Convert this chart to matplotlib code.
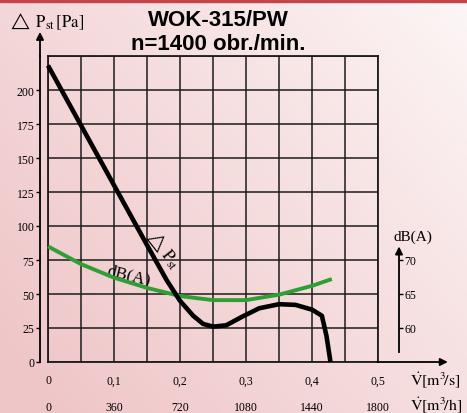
import numpy as np
import matplotlib
matplotlib.use("Agg")
import matplotlib.pyplot as plt
from matplotlib.patches import Rectangle
from matplotlib.ticker import MultipleLocator

plt.rcParams["font.family"] = ["Liberation Serif", "DejaVu Serif"]
plt.rcParams["mathtext.fontset"] = "stix"

# %% data
# air flow [m3/s] vs static pressure [Pa]
flow_p = [0, 0.05, 0.1, 0.15, 0.18, 0.2, 0.22, 0.235, 0.25, 0.27, 0.295,
          0.32, 0.35, 0.375, 0.4, 0.415, 0.422, 0.428]
pressure = [218, 174, 130, 86, 60, 45, 34, 28, 26, 27, 33.5,
            39.5, 42.5, 42, 38.5, 34, 19, 0]

# air flow [m3/s] vs noise [dB(A)]
flow_db = [0, 0.05, 0.1, 0.15, 0.2, 0.25, 0.3, 0.35, 0.4, 0.43]
noise = [72.0, 69.4, 67.4, 65.9, 64.7, 64.1, 64.1, 64.9, 66.2, 67.2]

x_ticks = [0, 0.1, 0.2, 0.3, 0.4, 0.5]
x_labels = ["0", "0,1", "0,2", "0,3", "0,4", "0,5"]
h_ticks = [0, 360, 720, 1080, 1440, 1800]
p_ticks = [0, 25, 50, 75, 100, 125, 150, 175, 200]
db_ticks = [60, 65, 70]

W, H = 467, 414
fig = plt.figure(figsize=(W / 100, H / 100), dpi=100)

# %% pink paper background
xf = np.linspace(0, 1, W)[None, :]
yf = np.linspace(0, 1, H)[:, None]
f = np.clip(0.62 * (1 - xf) + 0.45 * yf, 0, 1) ** 0.9
pink = np.array([239, 198, 200]) / 255
white = np.array([253, 247, 247]) / 255
img = white + (pink - white) * f[..., None]
bg = fig.add_axes([0, 0, 1, 1])
bg.imshow(img, aspect="auto", extent=[0, 1, 0, 1], origin="upper")
bg.axis("off")
fig.patches.append(Rectangle((0, 1 - 3 / H), 1, 3 / H, transform=fig.transFigure,
                             color="#c4434d", zorder=5))

# %% main grid
ax = fig.add_axes([48 / W, 1 - 363 / H, 330 / W, 306 / H])
ax.patch.set_visible(False)
ax.set_xlim(0, 0.5)
ax.set_ylim(0, 225)
ax.set_xticks(x_ticks, x_labels)
ax.xaxis.set_minor_locator(MultipleLocator(0.05))
ax.set_yticks(p_ticks + [225])
ax.grid(which="both", color="#1c1c1c", lw=1.1)
ax.tick_params(axis="x", which="both", length=0, pad=9, labelsize=8.5)
ax.tick_params(axis="y", length=0, labelleft=False)
for s in ax.spines.values():
    s.set_linewidth(1.3)
    s.set_color("#1c1c1c")

# left pressure axis
lax = ax.secondary_yaxis(-8 / 330)
lax.set_yticks(p_ticks)
lax.tick_params(length=3, width=1, pad=1, labelsize=8.5)
lax.spines["left"].set_linewidth(1.3)
ax.annotate("", xy=(-8 / 330, 1.088), xytext=(-8 / 330, 0.99),
            xycoords="axes fraction",
            arrowprops=dict(arrowstyle="-|>", lw=1.3, color="k", mutation_scale=11))

# second row of flow labels in m3/h
hax = ax.secondary_xaxis(-27 / 306, functions=(lambda v: v * 3600, lambda v: v / 3600))
hax.set_xticks(h_ticks)
hax.tick_params(length=0, pad=9, labelsize=8.5)
hax.spines["bottom"].set_visible(False)

# bottom arrow
ax.annotate("", xy=(1.22, 0), xytext=(0.99, 0), xycoords="axes fraction",
            arrowprops=dict(arrowstyle="-|>", lw=1.3, color="k", mutation_scale=11))

# %% noise axis on the right
ax2 = ax.twinx()
ax2.set_ylim(55, 55 + 225 / 5)
ax2.spines["right"].set_position(("axes", 351 / 330))
ax2.spines["right"].set_bounds(56.5, 71.5)
ax2.spines["right"].set_linewidth(1.3)
for s in ["top", "left", "bottom"]:
    ax2.spines[s].set_visible(False)
ax2.set_yticks(db_ticks)
ax2.tick_params(axis="y", length=3, width=1, pad=1, labelsize=8.5)
ax2.annotate("", xy=(351 / 330, 72.4), xytext=(351 / 330, 70.5),
             xycoords=("axes fraction", "data"),
             arrowprops=dict(arrowstyle="-|>", lw=1.3, color="k", mutation_scale=11))

ax2.plot(flow_db, noise, color="#2f9e35", lw=2.8, solid_capstyle="butt", clip_on=False)
ax2.plot(flow_p, pressure, color="k", lw=3.3, transform=ax.transData,
         solid_capstyle="butt", clip_on=False)

# %% texts
ax.text(0.176, 84, r"$\triangle\,\mathrm{P}_{\mathrm{st}}$", rotation=-52,
        ha="center", va="center", fontsize=12)
ax.text(0.122, 64, "dB(A)", rotation=-14, ha="center", va="center", fontsize=12.5)

fig.text(218 / W, 1 - 21 / H, "WOK-315/PW", ha="center", va="center",
         fontsize=16, fontweight="bold", family="Liberation Sans")
fig.text(218 / W, 1 - 44 / H, "n=1400 obr./min.", ha="center", va="center",
         fontsize=16, fontweight="bold", family="Liberation Sans")
fig.text(8 / W, 1 - 22 / H, r"$\triangle\ \mathrm{P}_{\mathrm{st}}\,[\mathrm{Pa}]$",
         ha="left", va="center", fontsize=12)
fig.text(393 / W, 1 - 237 / H, "dB(A)", ha="left", va="center", fontsize=11)
fig.text(410 / W, 1 - 380 / H, r"$\dot{\mathrm{V}}[\mathrm{m}^3\!/\mathrm{s}]$",
         ha="left", va="center", fontsize=11.5)
fig.text(410 / W, 1 - 405 / H, r"$\dot{\mathrm{V}}[\mathrm{m}^3\!/\mathrm{h}]$",
         ha="left", va="center", fontsize=11.5)

fig.savefig("out.png", dpi=100)
